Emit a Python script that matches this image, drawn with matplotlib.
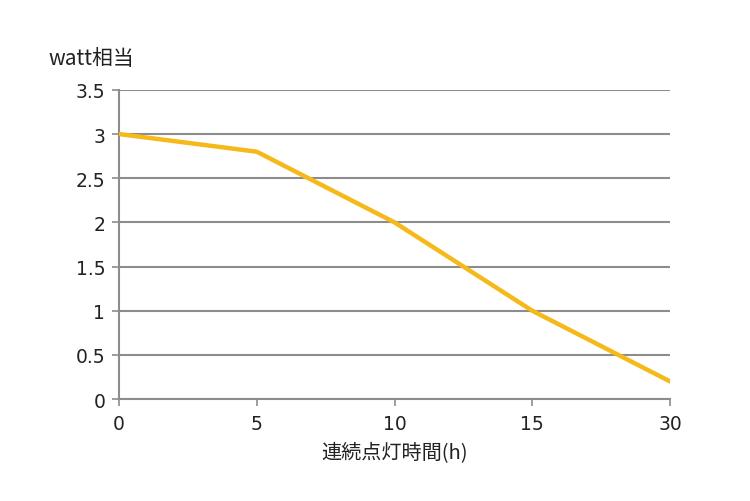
import matplotlib
matplotlib.use('Agg')
import matplotlib.pyplot as plt

plt.rcParams['font.family'] = ['DejaVu Sans', 'Noto Sans CJK JP']

# Data (x is categorical, equally spaced).
hours = ['0', '5', '10', '15', '30']
watts = [3.0, 2.8, 2.0, 1.0, 0.2]
y_ticks = [0, 0.5, 1, 1.5, 2, 2.5, 3, 3.5]
y_tick_labels = ['0', '0.5', '1', '1.5', '2', '2.5', '3', '3.5']

fig = plt.figure(figsize=(7.5, 5.02), dpi=100)
ax = fig.add_axes([0.1587, 0.203, 0.7347, 0.616])

grid_color = '#8c8c8c'
positions = range(len(hours))
ax.plot(positions, watts, color='#F5B919', linewidth=3.2,
        solid_capstyle='round', zorder=3)

ax.set_xlim(0, len(hours) - 1)
ax.set_ylim(0, 3.5)
ax.set_xticks(list(positions))
ax.set_xticklabels(hours)
ax.set_yticks(y_ticks)
ax.set_yticklabels(y_tick_labels)

ax.yaxis.grid(True, color=grid_color, linewidth=1.5, zorder=1)
ax.set_axisbelow(True)
for side in ['top', 'right']:
    ax.spines[side].set_visible(False)
for side in ['left', 'bottom']:
    ax.spines[side].set_color(grid_color)
    ax.spines[side].set_linewidth(1.5)
    ax.spines[side].set_zorder(2)

ax.tick_params(axis='both', direction='out', length=5, width=1.2,
               color=grid_color, labelsize=13.5, labelcolor='#222222')
ax.tick_params(axis='y', pad=5)
ax.tick_params(axis='x', pad=6)

jp = ['Noto Sans CJK JP', 'DejaVu Sans']
ax.set_xlabel('連続点灯時間(h)', fontsize=14.5, color='#222222',
              labelpad=6, family=jp)
fig.text(0.065, 0.883, 'watt相当', fontsize=15, color='#222222',
         ha='left', va='center', family=jp)

fig.savefig('out.png', dpi=100)
